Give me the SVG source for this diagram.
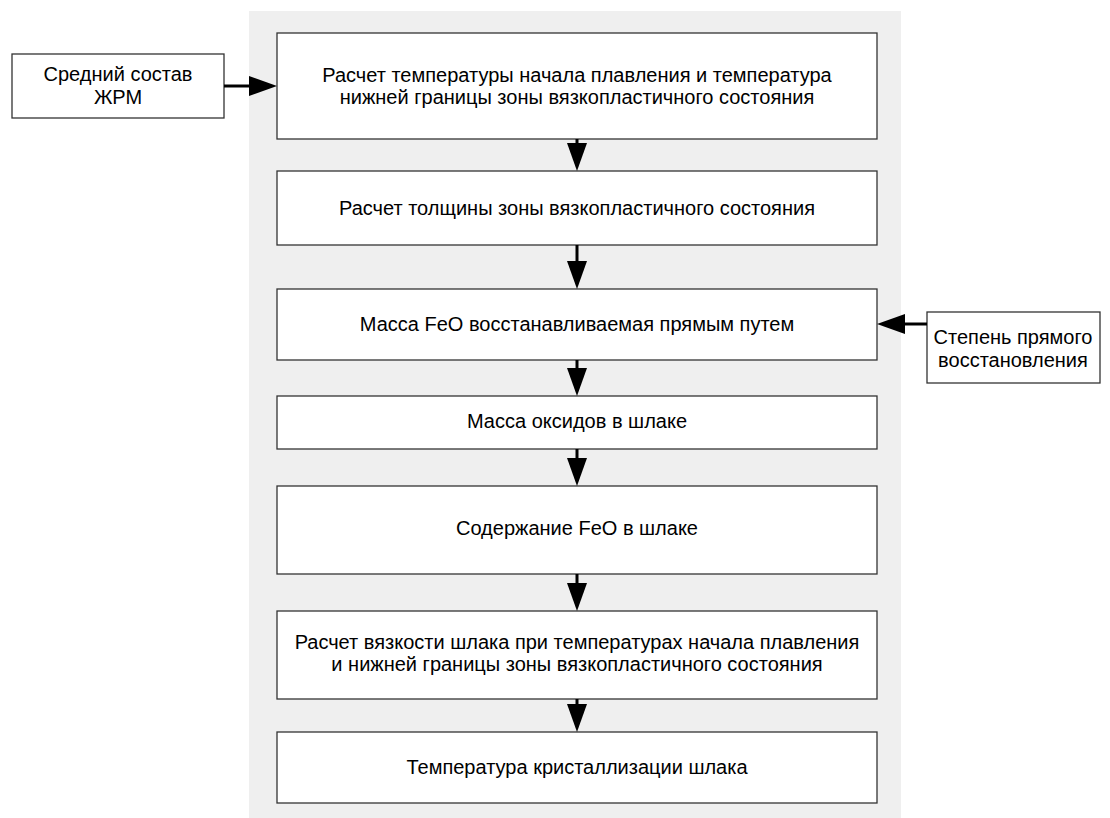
<svg xmlns="http://www.w3.org/2000/svg" width="1110" height="818" viewBox="0 0 1110 818">
<style>
.box{fill:#fff;stroke:#333;stroke-width:1.3}
.t{font-family:"Liberation Sans",Arial,sans-serif;font-size:20px;fill:#000;text-anchor:middle}
.c{stroke:#000;stroke-width:3;fill:none}
</style>
<defs>
<marker id="ah" markerUnits="userSpaceOnUse" markerWidth="28" markerHeight="20" refX="0" refY="10" orient="auto" overflow="visible">
<path d="M0,0 L28,10 L0,20 Z" fill="#000"/>
</marker>
</defs>
<rect x="249" y="11" width="652" height="807" fill="#efefef"/>
<g id="n1"><rect class="box" x="277" y="33" width="600" height="106"/><text class="t" x="577" y="82">Расчет температуры начала плавления и температура</text><text class="t" x="577" y="104">нижней границы зоны вязкопластичного состояния</text></g>
<g id="n2"><rect class="box" x="277" y="171" width="600" height="74"/><text class="t" x="577" y="215">Расчет толщины зоны вязкопластичного состояния</text></g>
<g id="n3"><rect class="box" x="277" y="289" width="600" height="71"/><text class="t" x="577" y="331">Масса FeO восстанавливаемая прямым путем</text></g>
<g id="n4"><rect class="box" x="277" y="396" width="600" height="53"/><text class="t" x="577" y="428">Масса оксидов в шлаке</text></g>
<g id="n5"><rect class="box" x="277" y="486" width="600" height="88"/><text class="t" x="577" y="535">Содержание FeO в шлаке</text></g>
<g id="n6"><rect class="box" x="277" y="611" width="600" height="88"/><text class="t" x="577" y="649">Расчет вязкости шлака при температурах начала плавления</text><text class="t" x="577" y="671">и нижней границы зоны вязкопластичного состояния</text></g>
<g id="n7"><rect class="box" x="277" y="732" width="600" height="71"/><text class="t" x="577" y="774">Температура кристаллизации шлака</text></g>
<g id="in1"><rect class="box" x="12" y="54" width="212" height="64"/><text class="t" x="118" y="81">Средний состав</text><text class="t" x="118" y="104">ЖРМ</text></g>
<g id="in2"><rect class="box" x="927" y="312" width="173" height="71"/><text class="t" x="1013" y="344">Степень прямого</text><text class="t" x="1013" y="367">восстановления</text></g>
<g id="connectors">
<line class="c" x1="224" y1="86" x2="249" y2="86" marker-end="url(#ah)"/>
<line class="c" x1="927" y1="324" x2="905" y2="324" marker-end="url(#ah)"/>
<line class="c" x1="577" y1="139" x2="577" y2="143" marker-end="url(#ah)"/>
<line class="c" x1="577" y1="245" x2="577" y2="261" marker-end="url(#ah)"/>
<line class="c" x1="577" y1="360" x2="577" y2="368" marker-end="url(#ah)"/>
<line class="c" x1="577" y1="449" x2="577" y2="458" marker-end="url(#ah)"/>
<line class="c" x1="577" y1="574" x2="577" y2="583" marker-end="url(#ah)"/>
<line class="c" x1="577" y1="699" x2="577" y2="704" marker-end="url(#ah)"/>
</g>
</svg>
